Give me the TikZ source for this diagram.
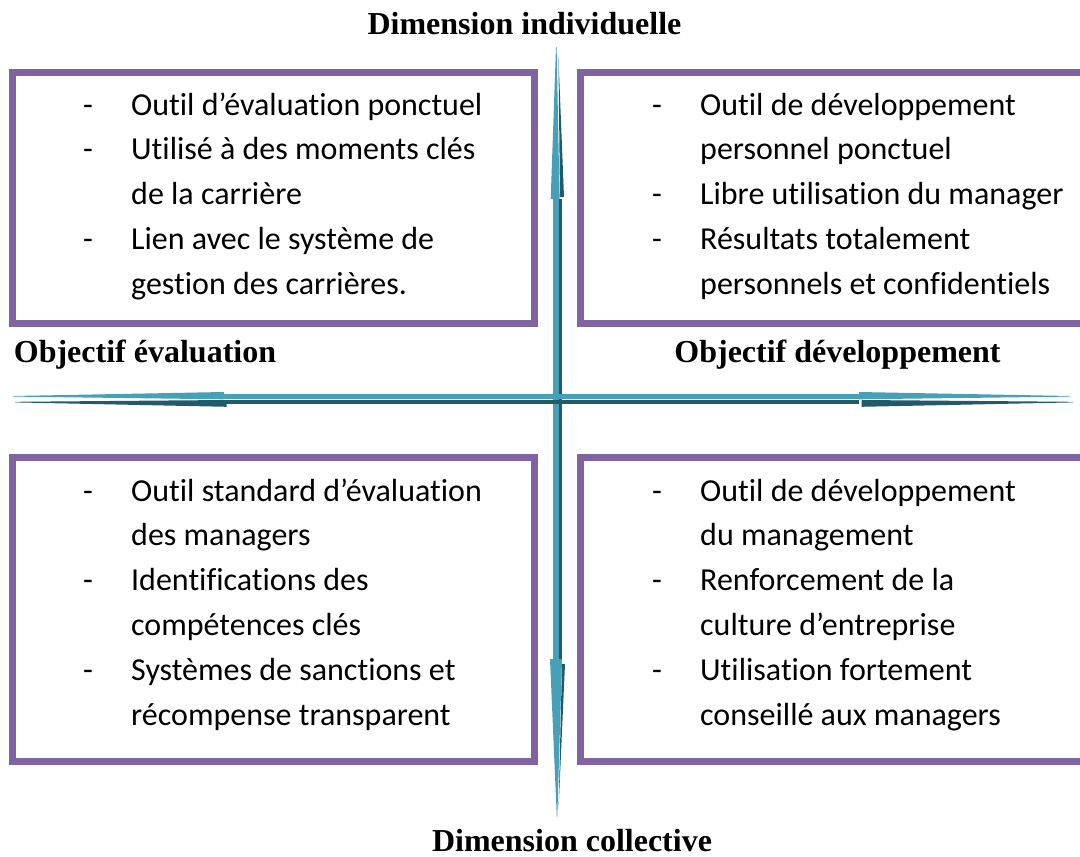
\documentclass[tikz,border=0pt]{standalone}
\usepackage{fontspec}
\setmainfont{Liberation Serif}
\newfontfamily\bodyfont[Ligatures=NoCommon]{Carlito}
\usepackage{array}

\definecolor{boxpurple}{HTML}{8064A2}
\definecolor{tealA}{HTML}{45A0B8}
\definecolor{tealB}{HTML}{235A69}

\tikzset{
  quadbox/.style={draw=boxpurple, line width=7pt},
  heading/.style={font=\fontsize{32}{38}\selectfont\bfseries, anchor=base, inner sep=0pt},
  itemlist/.style={anchor=base west, inner sep=0pt, font=\bodyfont\fontsize{32}{44.8}\selectfont},
  lightpart/.style={fill=tealA, draw=none},
  darkpart/.style={fill=tealB, draw=none}
}

% one bulleted line, and a continuation line
\newcommand{\dashitem}[1]{-{} & #1\\}
\newcommand{\contitem}[1]{ & #1\\}
\newenvironment{quadlist}{\begin{tabular}[t]{@{}p{48pt}@{}l@{}}}{\end{tabular}}

\begin{document}
\begin{tikzpicture}[x=1pt, y=-1pt]
\useasboundingbox (0,0) rectangle (1080,857);

% quadrant frames
\draw[quadbox] (12.5,72.5) rectangle (534.5,323.5);
\draw[quadbox] (580,72.5) rectangle (1110,323.5);
\draw[quadbox] (12.5,457) rectangle (534.5,761);
\draw[quadbox] (580,457) rectangle (1110,761);

% vertical axis: shaft and two spiked heads
\fill[lightpart] (553,199) rectangle (559.2,659);
\fill[darkpart] (559.2,199) rectangle (562,659);
\fill[lightpart] (550.7,199) -- (559.6,199) -- (556.6,47) -- (556,47) -- cycle;
\fill[darkpart] (560,197) -- (564,197) -- (558.4,56) -- cycle;
\fill[lightpart] (550,659) -- (562,659) -- (557.3,817) -- (556.8,817) -- cycle;
\fill[darkpart] (562,664) -- (565,664) -- (558.6,808) -- cycle;

% horizontal axis: shaft and two spiked heads
\fill[lightpart] (224,394) rectangle (859,399.4);
\fill[darkpart] (224,399.8) rectangle (859,404.4);
\fill[lightpart] (224,392) -- (224,399.3) -- (13,396.6) -- (13,396) -- cycle;
\fill[darkpart] (226.7,400) -- (226.7,406.8) -- (15,402.4) -- (15,401.8) -- cycle;
\fill[lightpart] (859,392) -- (859,399.3) -- (1070,396.6) -- (1070,396) -- cycle;
\fill[darkpart] (861.7,400) -- (861.7,406.8) -- (1073,402.4) -- (1073,401.8) -- cycle;

% axis titles
\node[heading] (top) at (524.5,34) {Dimension individuelle};
\node[heading] (bottom) at (572,851) {Dimension collective};
\node[heading] (left) at (145,362) {Objectif évaluation};
\node[heading] (right) at (837.5,362) {Objectif développement};

% quadrant contents
\node[itemlist] (tl) at (83,115) {\begin{quadlist}
\dashitem{Outil d’évaluation ponctuel}
\dashitem{Utilisé à des moments clés}
\contitem{de la carrière}
\dashitem{Lien avec le système de}
\contitem{gestion des carrières.}
\end{quadlist}};

\node[itemlist] (tr) at (652,115) {\begin{quadlist}
\dashitem{Outil de développement}
\contitem{personnel ponctuel}
\dashitem{Libre utilisation du manager}
\dashitem{Résultats totalement}
\contitem{personnels et confidentiels}
\end{quadlist}};

\node[itemlist] (bl) at (83,501) {\begin{quadlist}
\dashitem{Outil standard d’évaluation}
\contitem{des managers}
\dashitem{Identifications des}
\contitem{compétences clés}
\dashitem{Systèmes de sanctions et}
\contitem{récompense transparent}
\end{quadlist}};

\node[itemlist] (br) at (652,501) {\begin{quadlist}
\dashitem{Outil de développement}
\contitem{du management}
\dashitem{Renforcement de la}
\contitem{culture d’entreprise}
\dashitem{Utilisation fortement}
\contitem{conseillé aux managers}
\end{quadlist}};
\end{tikzpicture}
\end{document}
